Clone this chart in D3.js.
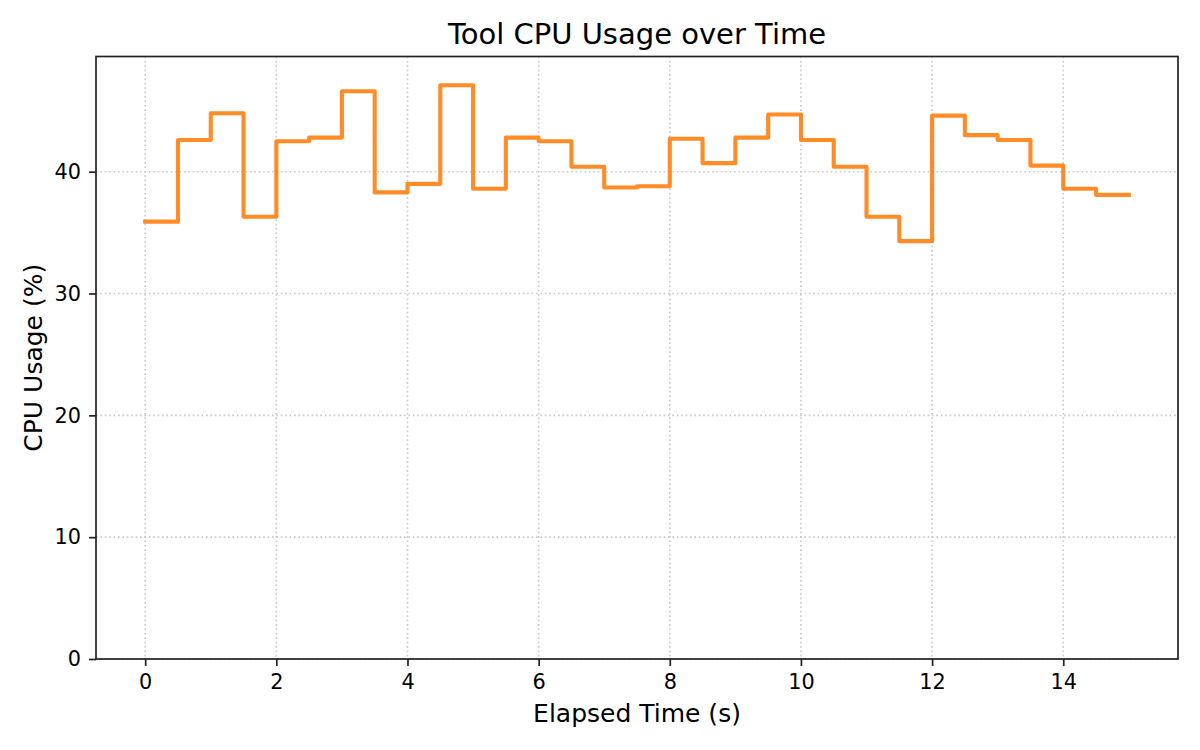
<!DOCTYPE html>
<html>
<head>
<meta charset="utf-8">
<script src="https://cdn.jsdelivr.net/npm/d3@7"></script>
<style>
  body { margin: 0; background: #fff; }
  text { font-family: "DejaVu Sans", sans-serif; fill: #000; }
</style>
</head>
<body>
<div id="viz"></div>
<script>
// data, one sample every 0.5 s
var times = [0, 0.5, 1, 1.5, 2, 2.5, 3, 3.5, 4, 4.5, 5, 5.5, 6, 6.5, 7, 7.5,
  8, 8.5, 9, 9.5, 10, 10.5, 11, 11.5, 12, 12.5, 13, 13.5, 14, 14.5, 15];
var cpuUsage = [35.9, 42.6, 44.8, 36.3, 42.5, 42.8, 46.6, 38.3, 39.0, 47.1, 38.6,
  42.8, 42.5, 40.4, 38.7, 38.8, 42.7, 40.7, 42.8, 44.7, 42.6, 40.4, 36.3, 34.3,
  44.6, 43.0, 42.6, 40.5, 38.6, 38.1, 38.1];
var xTicks = [0, 2, 4, 6, 8, 10, 12, 14];
var yTicks = [0, 10, 20, 30, 40];

// layout
var width = 1200, height = 750;
var margin = {top: 56.5, right: 22, bottom: 91, left: 96};
var innerW = width - margin.left - margin.right;
var innerH = height - margin.top - margin.bottom;

var points = times.map(function(t, i) { return {t: t, v: cpuUsage[i]}; });

var xPad = (d3.max(times) - d3.min(times)) * 0.05;
var x = d3.scaleLinear()
  .domain([d3.min(times) - xPad, d3.max(times) + xPad])
  .range([0, innerW]);
var y = d3.scaleLinear()
  .domain([0, d3.max(cpuUsage) * 1.05])
  .range([innerH, 0]);

var svg = d3.select("#viz")
  .append("svg")
  .attr("width", width)
  .attr("height", height);

var g = svg.append("g")
  .attr("transform", "translate(" + margin.left + "," + margin.top + ")");

// grid
g.append("g").selectAll("line")
  .data(xTicks)
  .enter()
  .append("line")
  .attr("x1", function(d) { return x(d); })
  .attr("x2", function(d) { return x(d); })
  .attr("y1", 0)
  .attr("y2", innerH)
  .attr("stroke", "#c8c8c8")
  .attr("stroke-width", 1.6)
  .attr("stroke-dasharray", "1.6,2.8");

g.append("g").selectAll("line")
  .data(yTicks)
  .enter()
  .append("line")
  .attr("x1", 0)
  .attr("x2", innerW)
  .attr("y1", function(d) { return y(d); })
  .attr("y2", function(d) { return y(d); })
  .attr("stroke", "#c8c8c8")
  .attr("stroke-width", 1.6)
  .attr("stroke-dasharray", "1.6,2.8");

// step line
var line = d3.line()
  .x(function(d) { return x(d.t); })
  .y(function(d) { return y(d.v); })
  .curve(d3.curveStepAfter);

g.append("path")
  .datum(points)
  .attr("d", line)
  .attr("fill", "none")
  .attr("stroke", "#ff7f0e")
  .attr("stroke-opacity", 0.9)
  .attr("stroke-width", 4.1)
  .attr("stroke-linejoin", "round")
  .attr("stroke-linecap", "square");

// axes
var xAxis = g.append("g")
  .attr("transform", "translate(0," + innerH + ")")
  .call(d3.axisBottom(x).tickValues(xTicks).tickSize(7).tickPadding(8.5).tickSizeOuter(0));
var yAxis = g.append("g")
  .call(d3.axisLeft(y).tickValues(yTicks).tickSize(7).tickPadding(8).tickSizeOuter(0));

[xAxis, yAxis].forEach(function(ax) {
  ax.select(".domain").remove();
  ax.selectAll(".tick line").attr("stroke", "#222").attr("stroke-width", 1.7);
  ax.selectAll(".tick text")
    .attr("font-family", "DejaVu Sans")
    .attr("font-size", "20.8px")
    .attr("fill", "#000");
});

// frame
g.append("rect")
  .attr("x", 0)
  .attr("y", 0)
  .attr("width", innerW)
  .attr("height", innerH)
  .attr("fill", "none")
  .attr("stroke", "#222")
  .attr("stroke-width", 1.7);

// labels
svg.append("text")
  .text("Tool CPU Usage over Time")
  .attr("x", margin.left + innerW / 2)
  .attr("y", 43.5)
  .attr("text-anchor", "middle")
  .attr("font-size", "29px");

svg.append("text")
  .text("Elapsed Time (s)")
  .attr("x", margin.left + innerW / 2)
  .attr("y", 722)
  .attr("text-anchor", "middle")
  .attr("font-size", "25px");

svg.append("text")
  .text("CPU Usage (%)")
  .attr("transform", "translate(42," + (margin.top + innerH / 2) + ") rotate(-90)")
  .attr("text-anchor", "middle")
  .attr("font-size", "25px");
</script>
</body>
</html>
